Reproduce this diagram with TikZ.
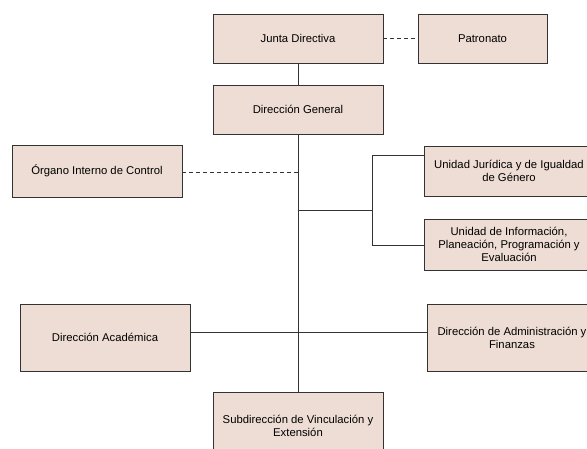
\documentclass[tikz,border=0pt]{standalone}
\usepackage{fontspec}
\setmainfont{Liberation Sans}
\begin{document}
\begin{tikzpicture}[x=1pt,y=-1pt,
  box/.style={draw=black!80,line width=0.9pt,fill=boxfill,minimum width=170pt,align=center,
    font=\fontsize{11.3}{13}\selectfont,inner sep=2pt},
  conn/.style={draw=black!80,line width=0.9pt},
  dconn/.style={conn,dash pattern=on 4pt off 3pt}]
\definecolor{boxfill}{HTML}{EEDDD4}
\useasboundingbox (0,0) rectangle (587,448);
\clip (0,0) rectangle (587,448);
\node[box,minimum height=49pt] (jd) at (298,38.5) {Junta Directiva};
\node[box,minimum height=49pt,minimum width=129pt] (pat) at (482.5,38.5) {Patronato};
\node[box,minimum height=49pt] (dg) at (298,109.5) {Dirección General};
\node[box,minimum height=52pt] (oic) at (97,171) {Órgano Interno de Control};
\node[box,minimum height=50pt] (uj) at (509,171) {Unidad Jurídica y de Igualdad\\de Género};
\node[box,minimum height=51pt] (ui) at (509,244.5) {Unidad de Información,\\Planeación, Programación y\\Evaluación};
\node[box,minimum height=67pt] (da) at (105,337.5) {Dirección Académica};
\node[box,minimum height=67pt] (daf) at (512,338) {Dirección de Administración y\\Finanzas};
\node[box,minimum height=67pt] (sub) at (298,425.5) {Subdirección de Vinculación y\\Extensión};
\coordinate (oicj) at (298,172);
\coordinate (uib) at (298,210);
\coordinate (br) at (372,210);
\coordinate (brt) at (372,155);
\coordinate (brb) at (372,245);
\coordinate (dal) at (190,332);
\draw[conn] (jd) -- (dg);
\draw[conn] (dg) -- (sub);
\draw[dconn] (jd) -- (pat);
\draw[dconn] (oic.east |- oicj) -- (oicj);
\draw[conn] (uib) -- (br);
\draw[conn] (brt) -- (brb);
\draw[conn] (brt) -- (brt -| uj.west);
\draw[conn] (brb) -- (brb -| ui.west);
\draw[conn] (da.east |- dal) -- (dal -| daf.west);
\end{tikzpicture}
\end{document}
